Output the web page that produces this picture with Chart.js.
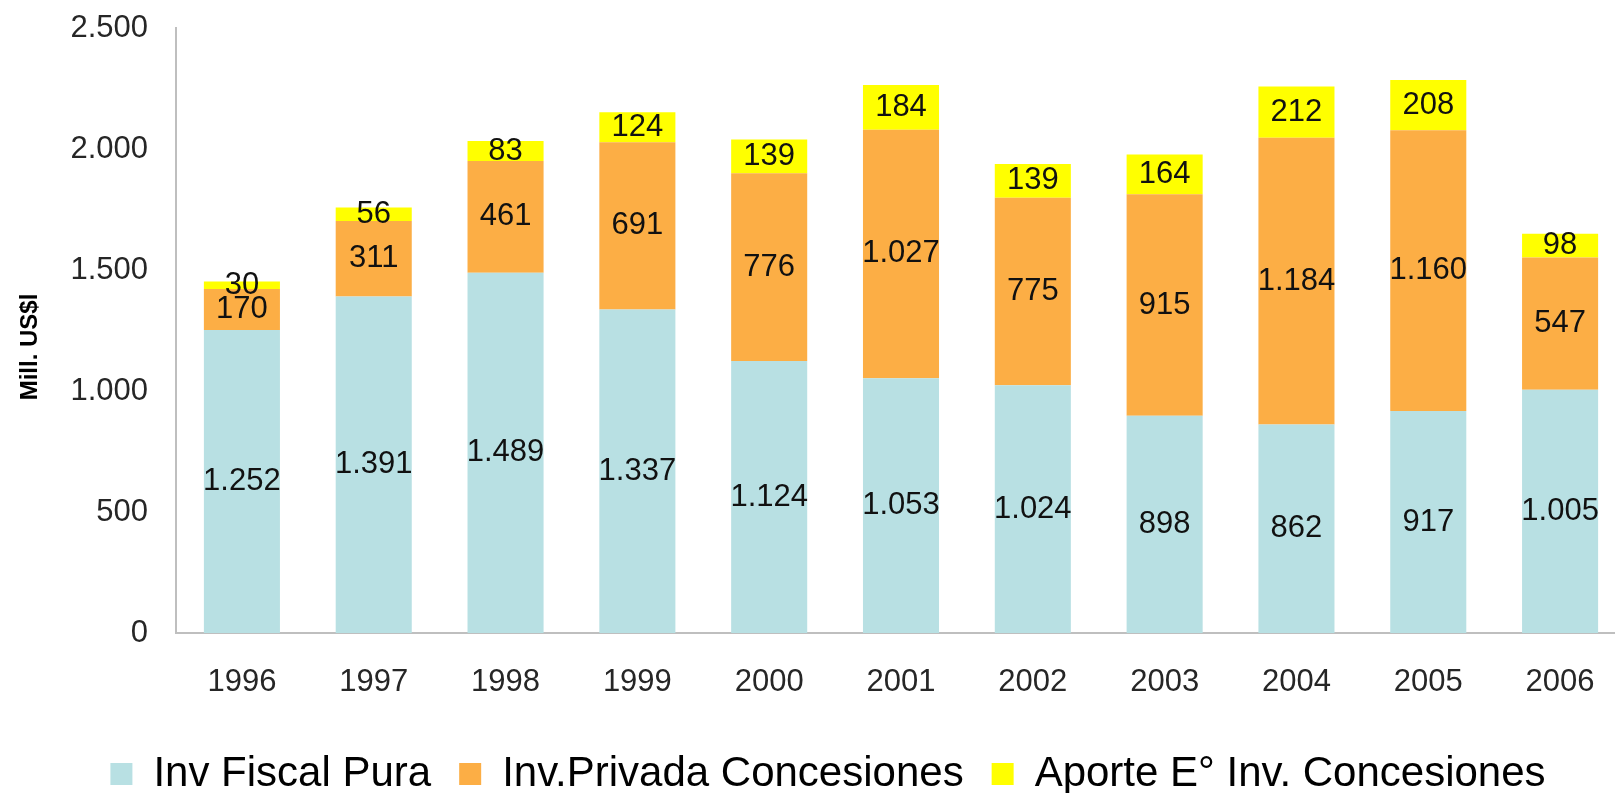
<!DOCTYPE html>
<html>
<head>
<meta charset="utf-8">
<script src="https://cdn.jsdelivr.net/npm/chart.js@4.4.1/dist/chart.umd.min.js"></script>
<style>
  html, body { margin: 0; padding: 0; background: #fff; overflow: hidden; }
  body { width: 1615px; height: 793px; }
  #wrap { width: 1626px; height: 805px; }
</style>
</head>
<body>
<div id="wrap"><canvas id="chart" width="1626" height="805"></canvas></div>
<script>
// Data
const years = ["1996", "1997", "1998", "1999", "2000", "2001", "2002", "2003", "2004", "2005", "2006"];
const fiscalPura = [1252, 1391, 1489, 1337, 1124, 1053, 1024, 898, 862, 917, 1005];
const privadaConcesiones = [170, 311, 461, 691, 776, 1027, 775, 915, 1184, 1160, 547];
const aporteConcesiones = [30, 56, 83, 124, 139, 184, 139, 164, 212, 208, 98];
const yTicks = [0, 500, 1000, 1500, 2000, 2500];

const FONT = "'Liberation Sans', Arial, sans-serif";

// 1.252 style thousands separator
function fmt(v) {
    return String(v).replace(/\B(?=(\d{3})+(?!\d))/g, ".");
}

// Value labels centred in each segment
const segmentLabels = {
    id: "segmentLabels",
    afterDatasetsDraw(chart) {
        const ctx = chart.ctx;
        ctx.save();
        ctx.font = "31px " + FONT;
        ctx.fillStyle = "#111";
        ctx.textAlign = "center";
        ctx.textBaseline = "middle";
        chart.data.datasets.forEach((ds, i) => {
            const meta = chart.getDatasetMeta(i);
            meta.data.forEach((bar, j) => {
                const y = (bar.y + bar.base) / 2;
                ctx.fillText(fmt(ds.data[j]), bar.x, y);
            });
        });
        ctx.restore();
    }
};

// Rotated y axis title, and nudge the legend a bit to the right
const yTitle = {
    id: "yTitle",
    afterLayout(chart) {
        if (chart.legend) {
            chart.legend.left += 15;
            chart.legend.right += 15;
        }
    },
    afterDraw(chart) {
        const ctx = chart.ctx;
        ctx.save();
        ctx.translate(30, 347);
        ctx.rotate(-Math.PI / 2);
        ctx.font = "bold 24px " + FONT;
        ctx.fillStyle = "#000";
        ctx.textAlign = "center";
        ctx.textBaseline = "middle";
        ctx.fillText("Mill. US$l", 0, 0);
        ctx.restore();
    }
};

const ctx = document.getElementById("chart").getContext("2d");

new Chart(ctx, {
    type: "bar",
    data: {
        labels: years,
        datasets: [
            { label: "Inv Fiscal Pura", data: fiscalPura, backgroundColor: "#B8E0E3" },
            { label: "Inv.Privada Concesiones", data: privadaConcesiones, backgroundColor: "#FCAE45" },
            { label: "Aporte E° Inv. Concesiones", data: aporteConcesiones, backgroundColor: "#FFFF00" }
        ]
    },
    options: {
        responsive: false,
        animation: false,
        layout: { padding: { top: 28, right: 0, bottom: 0, left: 0 } },
        datasets: {
            bar: { categoryPercentage: 1, barPercentage: 0.577, borderWidth: 0 }
        },
        plugins: {
            legend: {
                position: "bottom",
                labels: {
                    font: { family: FONT, size: 42 },
                    color: "#000",
                    boxWidth: 22,
                    boxHeight: 22,
                    padding: 28
                }
            },
            tooltip: { enabled: false }
        },
        scales: {
            x: {
                stacked: true,
                grid: { display: false, drawTicks: false },
                border: { color: "#BFBFBF", width: 2 },
                ticks: { font: { family: FONT, size: 31 }, color: "#262626", padding: 31 },
                afterFit(scale) { scale.height = 92; }
            },
            y: {
                stacked: true,
                min: 0,
                max: 2500,
                grid: { display: false, drawTicks: false },
                border: { color: "#BFBFBF", width: 2 },
                afterBuildTicks(scale) { scale.ticks = yTicks.map(v => ({ value: v })); },
                ticks: {
                    font: { family: FONT, size: 31 },
                    color: "#262626",
                    padding: 28,
                    callback: v => fmt(v)
                },
                afterFit(scale) {
                    scale.width = 176;
                    scale.paddingTop = 0;
                }
            }
        }
    },
    plugins: [segmentLabels, yTitle]
});
</script>
</body>
</html>
